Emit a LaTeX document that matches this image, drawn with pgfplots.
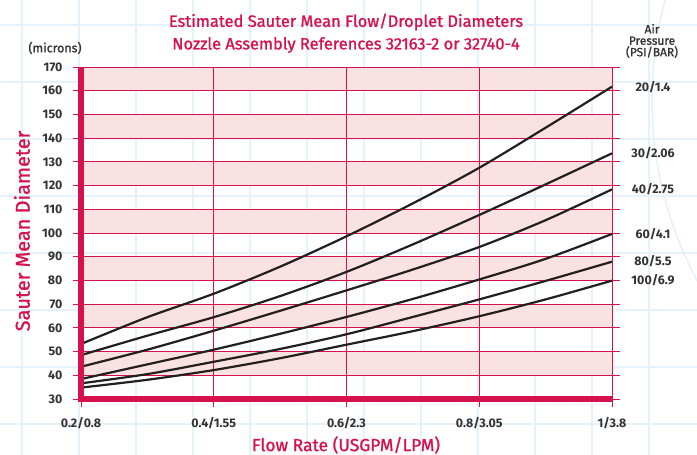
\documentclass[border=0pt]{standalone}
\usepackage{pgfplots}
\pgfplotsset{compat=1.18}
\usepackage{fontspec}
\setmainfont{Fira Sans}
\newfontfamily\medfont[FakeBold=1.2]{Fira Sans}
\definecolor{crimson}{RGB}{214,18,78}
\definecolor{bandpink}{RGB}{250,226,226}
\definecolor{bgblue}{RGB}{228,242,251}
\definecolor{txtgray}{RGB}{50,50,50}
\definecolor{curve}{RGB}{35,31,32}

\begin{document}
\begin{tikzpicture}
% faint graph-paper background and the pink bands (decoration)
\begin{scope}[x=1bp, y=1bp]
\foreach \px in {22,79,136,193,250,307,364,421,478,535,592,649}
  \draw[bgblue, line width=1.5bp] (\px-81,-56) -- (\px-81,399);
\foreach \py in {25,82,139,196,253,310,367,424}
  \draw[bgblue, line width=1.5bp] (-81,399-\py) -- (616,399-\py);
\draw[bgblue, line width=1.5bp] (954,299) circle (383);
\foreach \lo in {40,60,...,160}
  \fill[bandpink] (0,{(\lo-30)*2.37143}) rectangle (531,{(\lo-20)*2.37143});
\end{scope}

\begin{axis}[
    scale only axis,
    width=531bp, height=332bp,
    xmin=0.2, xmax=1, ymin=30, ymax=170,
    xtick={0.2,0.4,0.6,0.8,1},
    xticklabels={0.2/0.8, 0.4/1.55, 0.6/2.3, 0.8/3.05, 1/3.8},
    ytick={30,40,...,170},
    xtick pos=lower,
    tick align=outside,
    major tick length=8bp,
    grid=major,
    major grid style={draw=crimson, line width=0.9bp},
    major tick style={draw=crimson, line width=0.9bp},
    axis line style={draw=none},
    /pgf/number format/assume math mode=true,
    ticklabel style={font=\fontsize{12.5}{12.5}\selectfont\bfseries, text=txtgray},
    xticklabel style={yshift=-7bp},
    yticklabel style={xshift=-7bp},
    clip=false,
]
% 20/1.4
\addplot[curve, line width=2.2bp, smooth] coordinates {
  (0.2,53.2) (0.3,64.5) (0.4,74.4) (0.5,85.8) (0.6,98.6)
  (0.7,112.5) (0.8,127.5) (0.9,144.4) (1.0,161.7)};
% 30/2.06
\addplot[curve, line width=2.2bp, smooth] coordinates {
  (0.2,48.5) (0.3,56.7) (0.4,64.5) (0.5,73.4) (0.6,83.6)
  (0.7,95.2) (0.8,107.6) (0.9,120.5) (1.0,133.6)};
% 40/2.75
\addplot[curve, line width=2.2bp, smooth] coordinates {
  (0.2,43.6) (0.3,50.8) (0.4,58.8) (0.5,67.2) (0.6,75.8)
  (0.7,84.6) (0.8,94.1) (0.9,105.4) (1.0,118.4)};
% 60/4.1
\addplot[curve, line width=2.2bp, smooth] coordinates {
  (0.2,38.4) (0.3,44.6) (0.4,50.8) (0.5,57.5) (0.6,64.6)
  (0.7,72.2) (0.8,80.4) (0.9,89.1) (1.0,99.6)};
% 80/5.5
\addplot[curve, line width=2.2bp, smooth] coordinates {
  (0.2,36.6) (0.3,40.5) (0.4,45.7) (0.5,51.1) (0.6,57.3)
  (0.7,64.6) (0.8,72.0) (0.9,79.8) (1.0,87.9)};
% 100/6.9
\addplot[curve, line width=2.2bp, smooth] coordinates {
  (0.2,34.8) (0.3,38.1) (0.4,42.2) (0.5,47.2) (0.6,52.9)
  (0.7,58.6) (0.8,64.9) (0.9,72.0) (1.0,79.9)};

\draw[crimson, line width=5.5bp, line join=miter]
  (rel axis cs:0,1) -- (rel axis cs:0,0) -- (rel axis cs:1,0);

\begin{scope}[every node/.style={font=\fontsize{12.5}{12.5}\selectfont\bfseries, text=txtgray, xshift=41bp}]
\node at (axis cs:1,161.7) {20/1.4};
\node at (axis cs:1,133.6) {30/2.06};
\node at (axis cs:1,118.4) {40/2.75};
\node at (axis cs:1,99.6) {60/4.1};
\node at (axis cs:1,88.3) {80/5.5};
\node at (axis cs:1,80.0) {100/6.9};
\end{scope}
\end{axis}

\node[text=crimson, font=\medfont\fontsize{16.5}{16.5}\selectfont] at (265bp,377bp) {Estimated Sauter Mean Flow/Droplet Diameters};
\node[text=crimson, font=\medfont\fontsize{16.5}{16.5}\selectfont] at (265bp,354bp) {Nozzle Assembly References 32163-2 or 32740-4};
\node[text=txtgray, font=\medfont\fontsize{12.5}{12.5}\selectfont] at (-26bp,351bp) {(microns)};
\node[text=txtgray, font=\medfont\fontsize{12}{11.5}\selectfont, align=center] at (571bp,358bp) {Air\\Pressure\\(PSI/BAR)};
\node[text=crimson, font=\medfont\fontsize{20}{20}\selectfont, rotate=90] at (-59bp,168bp) {Sauter Mean Diameter};
\node[text=crimson, font=\medfont\fontsize{17.5}{17.5}\selectfont] at (265bp,-46bp) {Flow Rate (USGPM/LPM)};

\pgfresetboundingbox
\path[use as bounding box] (-81bp,-56bp) rectangle (616bp,399bp);
\end{tikzpicture}
\end{document}
